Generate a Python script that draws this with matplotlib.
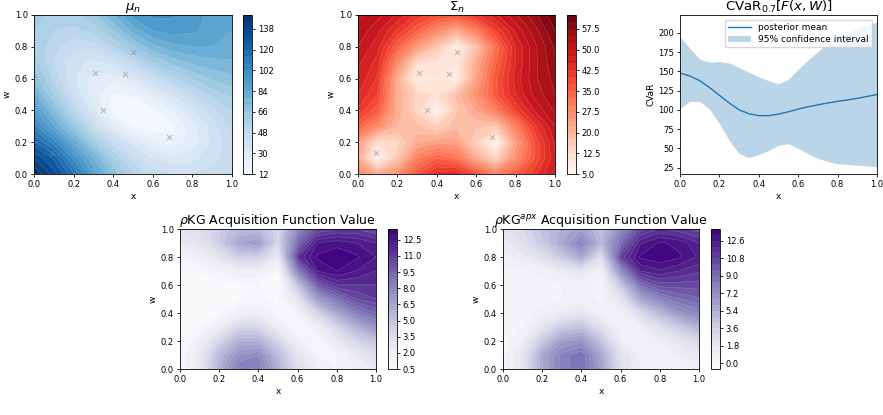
import numpy as np
import matplotlib
matplotlib.use('Agg')
import matplotlib.pyplot as plt

# grid used by all four contour panels
grid_x = [0.0, 0.1, 0.2, 0.3, 0.4, 0.5, 0.6, 0.7, 0.8, 0.9, 1.0]
grid_w = [0.0, 0.1, 0.2, 0.3, 0.4, 0.5, 0.6, 0.7, 0.8, 0.9, 1.0]

# rows: w = 0.0 ... 1.0, columns: x = 0.0 ... 1.0
mu_n = [
    [150, 135, 115, 90, 70, 55, 46, 42, 42, 44, 47],
    [138, 125, 100, 78, 60, 45, 36, 31, 34, 40, 46],
    [122, 105, 82, 62, 45, 32, 24, 20, 27, 37, 47],
    [105, 85, 65, 45, 27, 17, 14, 17, 27, 39, 50],
    [92, 72, 52, 32, 16, 13, 16, 24, 35, 46, 54],
    [80, 60, 42, 26, 17, 19, 27, 37, 47, 56, 62],
    [70, 52, 37, 28, 26, 32, 43, 53, 61, 67, 70],
    [63, 48, 38, 34, 38, 48, 60, 68, 73, 76, 77],
    [60, 50, 44, 45, 54, 65, 76, 82, 84, 84, 82],
    [60, 54, 52, 56, 66, 80, 90, 93, 91, 88, 84],
    [62, 58, 58, 64, 78, 92, 98, 97, 93, 88, 85],
]

sigma_n = [
    [28, 22, 27, 37, 44, 45, 38, 30, 35, 42, 48],
    [22, 6, 17, 30, 35, 32, 22, 14, 27, 38, 47],
    [25, 12, 14, 22, 24, 24, 15, 6, 24, 38, 48],
    [35, 28, 20, 18, 15, 19, 18, 17, 30, 42, 50],
    [42, 36, 22, 14, 6, 17, 23, 30, 40, 48, 53],
    [45, 40, 22, 14, 12, 18, 27, 37, 45, 51, 55],
    [47, 42, 22, 8, 10, 8, 24, 37, 46, 52, 56],
    [48, 44, 28, 13, 12, 10, 22, 35, 45, 52, 57],
    [50, 46, 35, 25, 17, 8, 18, 33, 45, 52, 58],
    [52, 48, 42, 35, 28, 22, 30, 40, 48, 54, 60],
    [53, 51, 47, 42, 38, 38, 42, 47, 52, 57, 62],
]

kg = [
    [1.0, 2.5, 6.0, 8.5, 8.5, 6.0, 3.5, 2.0, 1.5, 2.0, 2.5],
    [1.0, 2.5, 5.5, 7.5, 8.0, 5.5, 3.0, 1.5, 1.5, 2.5, 3.5],
    [1.0, 1.8, 4.0, 6.0, 6.0, 4.0, 1.8, 1.0, 2.5, 4.0, 5.0],
    [0.8, 1.0, 2.2, 4.0, 4.0, 2.2, 1.0, 2.0, 4.0, 6.0, 7.5],
    [0.7, 0.8, 1.0, 1.8, 2.0, 1.2, 1.5, 4.0, 6.5, 8.5, 9.5],
    [0.7, 0.7, 0.8, 1.0, 1.2, 0.8, 3.0, 7.0, 9.0, 10.5, 11.0],
    [0.7, 0.7, 0.8, 1.0, 1.0, 0.6, 5.0, 10.0, 11.5, 11.5, 11.5],
    [1.0, 1.0, 1.5, 2.0, 2.0, 1.0, 8.5, 12.5, 13.0, 12.5, 12.0],
    [1.5, 2.0, 3.0, 4.5, 4.5, 2.5, 11.5, 13.1, 13.4, 13.1, 12.5],
    [2.5, 3.0, 4.5, 6.5, 7.0, 4.0, 9.5, 12.5, 12.8, 12.5, 12.0],
    [3.0, 3.5, 4.5, 5.5, 5.5, 4.0, 8.0, 10.5, 11.0, 11.0, 10.5],
]

kg_apx = [
    [0.3, 2.0, 6.0, 8.0, 9.0, 6.5, 2.5, 1.2, 0.6, 0.6, 0.8],
    [0.3, 2.0, 6.0, 8.0, 9.0, 6.0, 2.5, 1.0, 0.8, 1.2, 1.8],
    [0.3, 1.2, 4.0, 6.5, 7.0, 4.5, 1.2, 0.6, 1.2, 2.0, 3.0],
    [0.3, 0.6, 2.0, 4.0, 4.5, 2.5, 0.6, 1.2, 2.5, 4.0, 5.5],
    [0.3, 0.4, 0.8, 1.5, 2.0, 0.8, 0.8, 3.0, 5.0, 7.0, 8.0],
    [0.3, 0.3, 0.4, 0.6, 0.8, 0.5, 2.0, 6.0, 8.0, 9.0, 9.5],
    [0.3, 0.3, 0.4, 0.6, 0.8, 0.3, 4.0, 9.0, 10.5, 10.5, 10.5],
    [0.5, 0.5, 0.8, 1.5, 2.0, 0.8, 7.5, 12.0, 12.5, 12.0, 11.5],
    [1.0, 1.5, 2.5, 4.0, 6.0, 2.5, 11.0, 13.3, 13.7, 13.3, 12.5],
    [1.5, 2.5, 4.0, 6.0, 8.0, 5.0, 9.0, 12.5, 13.3, 13.0, 12.0],
    [2.0, 3.0, 4.5, 5.5, 6.5, 4.5, 7.5, 10.5, 11.5, 11.0, 10.5],
]

# sampled points
obs_x = [0.09, 0.31, 0.35, 0.46, 0.50, 0.68]
obs_w = [0.13, 0.635, 0.40, 0.63, 0.77, 0.23]

# CVaR posterior
cvar_x = [0.0, 0.05, 0.1, 0.15, 0.2, 0.25, 0.3, 0.35, 0.4, 0.45, 0.5,
          0.55, 0.6, 0.65, 0.7, 0.75, 0.8, 0.85, 0.9, 0.95, 1.0]
cvar_mean = [148, 144, 138, 129, 119, 109, 100, 95, 92.5, 92.5, 94.5,
             97.5, 101, 104, 106.5, 109, 111, 113, 115, 117.5, 120]
cvar_upper = [195, 180, 166, 162, 163, 161, 155, 149, 143, 138, 134,
              140, 153, 165, 176, 186, 194, 201, 207, 211, 214]
cvar_lower = [102, 111, 111, 101, 82, 60, 43, 38, 42, 47, 54,
              56, 50, 43, 37, 33, 30, 29, 28, 27, 26]

TICK_FS = 6
LABEL_FS = 6.5
TOP_TITLE_FS = 9.6
BOTTOM_TITLE_FS = 9

plt.rcParams['axes.linewidth'] = 0.6
plt.rcParams['xtick.major.width'] = 0.6
plt.rcParams['ytick.major.width'] = 0.6
plt.rcParams['xtick.major.size'] = 2.5
plt.rcParams['ytick.major.size'] = 2.5

fig = plt.figure(figsize=(8.83, 4.15), dpi=100)
W, H = 883.0, 415.0


def add_axes_px(left, top, width, height):
    return fig.add_axes([left / W, 1 - (top + height) / H, width / W, height / H])


def contour_panel(ax, cax, data, cmap, levels, ticks, fmt, title, title_fs,
                  title_pad=2, points=True):
    X, Y = np.meshgrid(grid_x, grid_w)
    Z = np.array(data, dtype=float)
    cf = ax.contourf(X, Y, Z, levels=levels, cmap=cmap)
    ax.contour(X, Y, Z, levels=levels, colors='white', linewidths=0.3, alpha=0.35)
    if points:
        ax.scatter(obs_x, obs_w, marker='x', color='gray', alpha=0.5, s=12, linewidths=0.8)
    ax.set_xlim(0, 1)
    ax.set_ylim(0, 1)
    ax.set_xticks([0.0, 0.2, 0.4, 0.6, 0.8, 1.0])
    ax.set_yticks([0.0, 0.2, 0.4, 0.6, 0.8, 1.0])
    ax.tick_params(labelsize=TICK_FS, pad=2)
    ax.set_xlabel('x', fontsize=LABEL_FS, labelpad=2)
    ax.set_ylabel('w', fontsize=LABEL_FS, labelpad=2)
    ax.set_title(title, fontsize=title_fs, pad=title_pad)
    cb = fig.colorbar(cf, cax=cax, ticks=ticks, format=fmt)
    cb.ax.tick_params(labelsize=TICK_FS, pad=2, width=0.6, length=2.5)
    cb.outline.set_linewidth(0.6)
    return cf


# top row
ax1 = add_axes_px(34, 15, 198, 159)
cax1 = add_axes_px(243, 15, 8.5, 159)
contour_panel(ax1, cax1, mu_n, 'Blues', np.arange(12, 151, 6),
              [12, 30, 48, 66, 84, 102, 120, 138], '%d', r'$\mu_n$',
              TOP_TITLE_FS, title_pad=1)

ax2 = add_axes_px(358, 15, 197, 159)
cax2 = add_axes_px(567, 15, 8.5, 159)
contour_panel(ax2, cax2, sigma_n, 'Reds', np.arange(5, 63, 2.5),
              [5, 12.5, 20, 27.5, 35, 42.5, 50, 57.5], '%.1f', r'$\Sigma_n$',
              TOP_TITLE_FS, title_pad=1)

ax3 = add_axes_px(680, 15, 197, 159)
ax3.fill_between(cvar_x, cvar_lower, cvar_upper, color='C0', alpha=0.3, linewidth=0,
                 label='95% confidence interval')
ax3.plot(cvar_x, cvar_mean, color='C0', linewidth=1.0, label='posterior mean')
ax3.set_xlim(0, 1)
ax3.set_xticks([0.0, 0.2, 0.4, 0.6, 0.8, 1.0])
ax3.set_yticks([25, 50, 75, 100, 125, 150, 175, 200])
ax3.tick_params(labelsize=TICK_FS, pad=2)
ax3.set_xlabel('x', fontsize=LABEL_FS, labelpad=2)
ax3.set_ylabel('CVaR', fontsize=LABEL_FS, labelpad=2)
ax3.set_title(r'CVaR$_{0.7}[F(x,W)]$', fontsize=TOP_TITLE_FS, pad=1)
h, l = ax3.get_legend_handles_labels()
ax3.legend(h[::-1], l[::-1], loc='upper right', fontsize=6.5, handlelength=2.5,
           borderpad=0.4, labelspacing=0.3)

# bottom row
ax4 = add_axes_px(180, 229, 196, 140)
cax4 = add_axes_px(388, 229, 8.5, 140)
contour_panel(ax4, cax4, kg, 'Purples', np.arange(0.5, 13.6, 0.5),
              [0.5, 2.0, 3.5, 5.0, 6.5, 8.0, 9.5, 11.0, 12.5], '%.1f',
              r'$\rho$KG Acquisition Function Value', BOTTOM_TITLE_FS, points=False)

ax5 = add_axes_px(503, 229, 196, 140)
cax5 = add_axes_px(711, 229, 8.5, 140)
contour_panel(ax5, cax5, kg_apx, 'Purples', np.arange(-0.6, 13.9, 0.6),
              [0.0, 1.8, 3.6, 5.4, 7.2, 9.0, 10.8, 12.6], '%.1f',
              r'$\rho$KG$^{apx}$ Acquisition Function Value', BOTTOM_TITLE_FS, points=False)

fig.savefig('out.png', dpi=100)
